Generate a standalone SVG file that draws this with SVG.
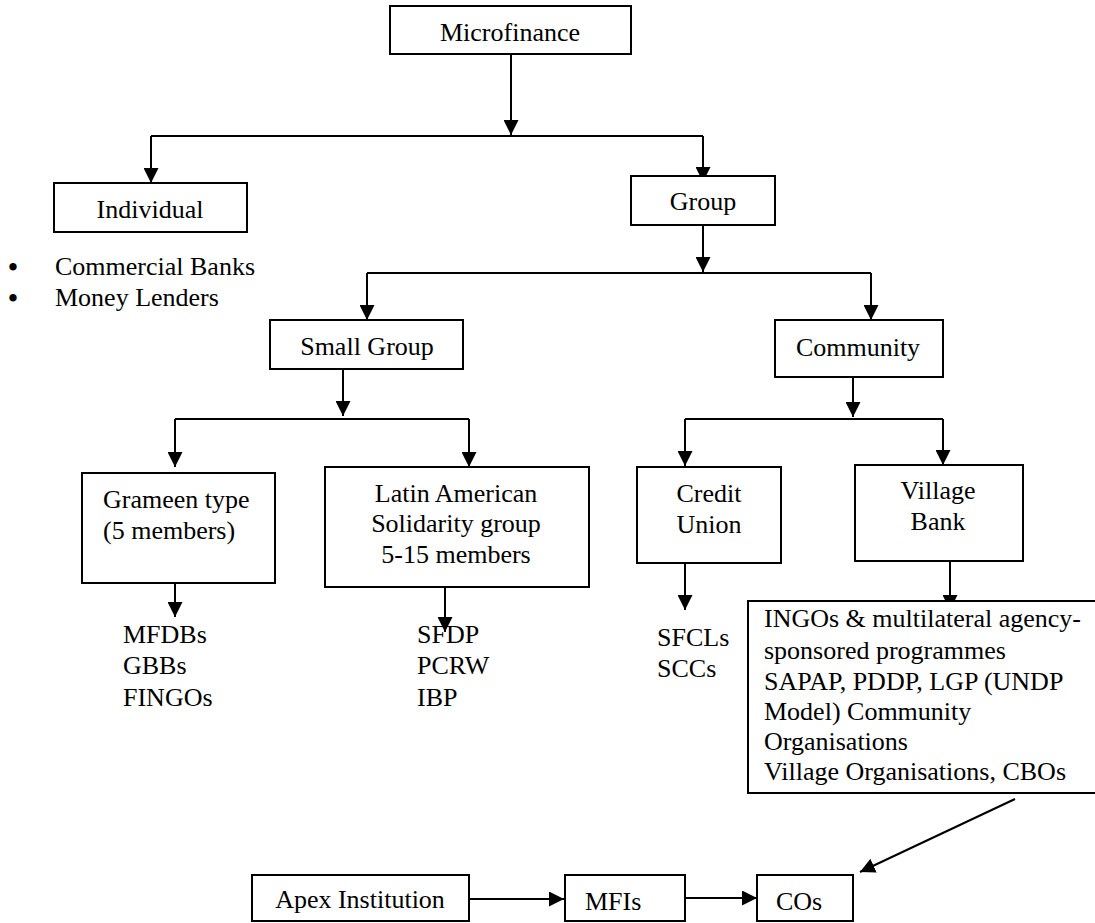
<svg xmlns="http://www.w3.org/2000/svg" width="1095" height="923" viewBox="0 0 1095 923">
  <defs>
    <marker id="arrow" viewBox="0 0 15 15" refX="15" refY="7.5" markerWidth="15" markerHeight="15" markerUnits="userSpaceOnUse" orient="auto">
      <path d="M0,0 L15,7.5 L0,15 Z" fill="#000"/>
    </marker>
    <style>
      .box { fill: #fff; stroke: #000; stroke-width: 2; }
      .line { fill: none; stroke: #000; stroke-width: 2; }
      .arr { fill: none; stroke: #000; stroke-width: 2; marker-end: url(#arrow); }
      .c { text-anchor: middle; }
      .bullet { font-size: 27px; font-weight: bold; text-anchor: middle; }
    </style>
  </defs>

  <rect width="1095" height="923" fill="#fff"/>

  <!-- connectors -->
  <g id="connectors">
    <path class="arr" d="M511,54 V135"/>
    <path class="line" d="M151,136 H703"/>
    <path class="arr" d="M151,136 V183"/>
    <path class="arr" d="M703,136 V182"/>

    <path class="arr" d="M703,225 V272"/>
    <path class="line" d="M367,273 H871"/>
    <path class="arr" d="M367,273 V320"/>
    <path class="arr" d="M871,273 V320"/>

    <path class="arr" d="M343,369 V416"/>
    <path class="line" d="M175,419 H469"/>
    <path class="arr" d="M175,419 V467"/>
    <path class="arr" d="M469,419 V467"/>

    <path class="arr" d="M853,370 V417"/>
    <path class="line" d="M685,419 H943"/>
    <path class="arr" d="M685,419 V466"/>
    <path class="arr" d="M943,419 V465"/>

    <path class="arr" d="M175,569 V617"/>
    <path class="arr" d="M445,587 V632"/>
    <path class="arr" d="M685,563 V610"/>
    <path class="arr" d="M950,561 V610"/>

    <path class="arr" d="M1015,799 L860,872"/>
    <path class="arr" d="M469,899 H564"/>
    <path class="arr" d="M685,898 H757"/>
  </g>

  <g font-family="'Liberation Serif', 'DejaVu Serif', serif" font-size="26" fill="#000">
    <g id="microfinance">
      <rect class="box" x="390" y="6" width="241" height="48"/>
      <text class="c" x="510" y="41">Microfinance</text>
    </g>

    <g id="individual">
      <rect class="box" x="54" y="183" width="193" height="49"/>
      <text class="c" x="150" y="218">Individual</text>
    </g>

    <g id="individual-list">
      <text class="bullet" x="13" y="276">•</text>
      <text x="55" y="275">Commercial Banks</text>
      <text class="bullet" x="13" y="307">•</text>
      <text x="55" y="306">Money Lenders</text>
    </g>

    <g id="group">
      <rect class="box" x="631" y="176" width="144" height="49"/>
      <text class="c" x="703" y="210">Group</text>
    </g>

    <g id="small-group">
      <rect class="box" x="270" y="320" width="193" height="49"/>
      <text class="c" x="367" y="355">Small Group</text>
    </g>

    <g id="community">
      <rect class="box" x="775" y="320" width="168" height="57"/>
      <text class="c" x="858" y="356">Community</text>
    </g>

    <g id="grameen">
      <rect class="box" x="82" y="473" width="193" height="110"/>
      <text x="103" y="508">Grameen type</text>
      <text x="103" y="539">(5 members)</text>
    </g>

    <g id="latin-american">
      <rect class="box" x="325" y="467" width="264" height="120"/>
      <text class="c" x="456" y="502">Latin American</text>
      <text class="c" x="456" y="532">Solidarity group</text>
      <text class="c" x="456" y="563">5-15 members</text>
    </g>

    <g id="credit-union">
      <rect class="box" x="637" y="467" width="144" height="96"/>
      <text class="c" x="709" y="502">Credit</text>
      <text class="c" x="709" y="533">Union</text>
    </g>

    <g id="village-bank">
      <rect class="box" x="855" y="465" width="168" height="96"/>
      <text class="c" x="938" y="499">Village</text>
      <text class="c" x="938" y="530">Bank</text>
    </g>

    <g id="grameen-institutions">
      <text x="123" y="643">MFDBs</text>
      <text x="123" y="674">GBBs</text>
      <text x="123" y="706">FINGOs</text>
    </g>

    <g id="solidarity-institutions">
      <text x="417" y="643">SFDP</text>
      <text x="417" y="674">PCRW</text>
      <text x="417" y="706">IBP</text>
    </g>

    <g id="credit-union-institutions">
      <text x="657" y="646">SFCLs</text>
      <text x="657" y="677">SCCs</text>
    </g>

    <g id="village-bank-programmes">
      <rect class="box" x="748" y="601" width="360" height="192"/>
      <text x="764" y="627">INGOs &amp; multilateral agency-</text>
      <text x="764" y="659">sponsored programmes</text>
      <text x="764" y="690">SAPAP, PDDP, LGP (UNDP</text>
      <text x="764" y="720">Model) Community</text>
      <text x="764" y="750">Organisations</text>
      <text x="764" y="780">Village Organisations, CBOs</text>
    </g>

    <g id="apex-institution">
      <rect class="box" x="252" y="875" width="217" height="46"/>
      <text class="c" x="360" y="908">Apex Institution</text>
    </g>

    <g id="mfis">
      <rect class="box" x="565" y="875" width="120" height="46"/>
      <text x="585" y="910">MFIs</text>
    </g>

    <g id="cos">
      <rect class="box" x="757" y="875" width="96" height="46"/>
      <text x="776" y="910">COs</text>
    </g>
  </g>
</svg>
